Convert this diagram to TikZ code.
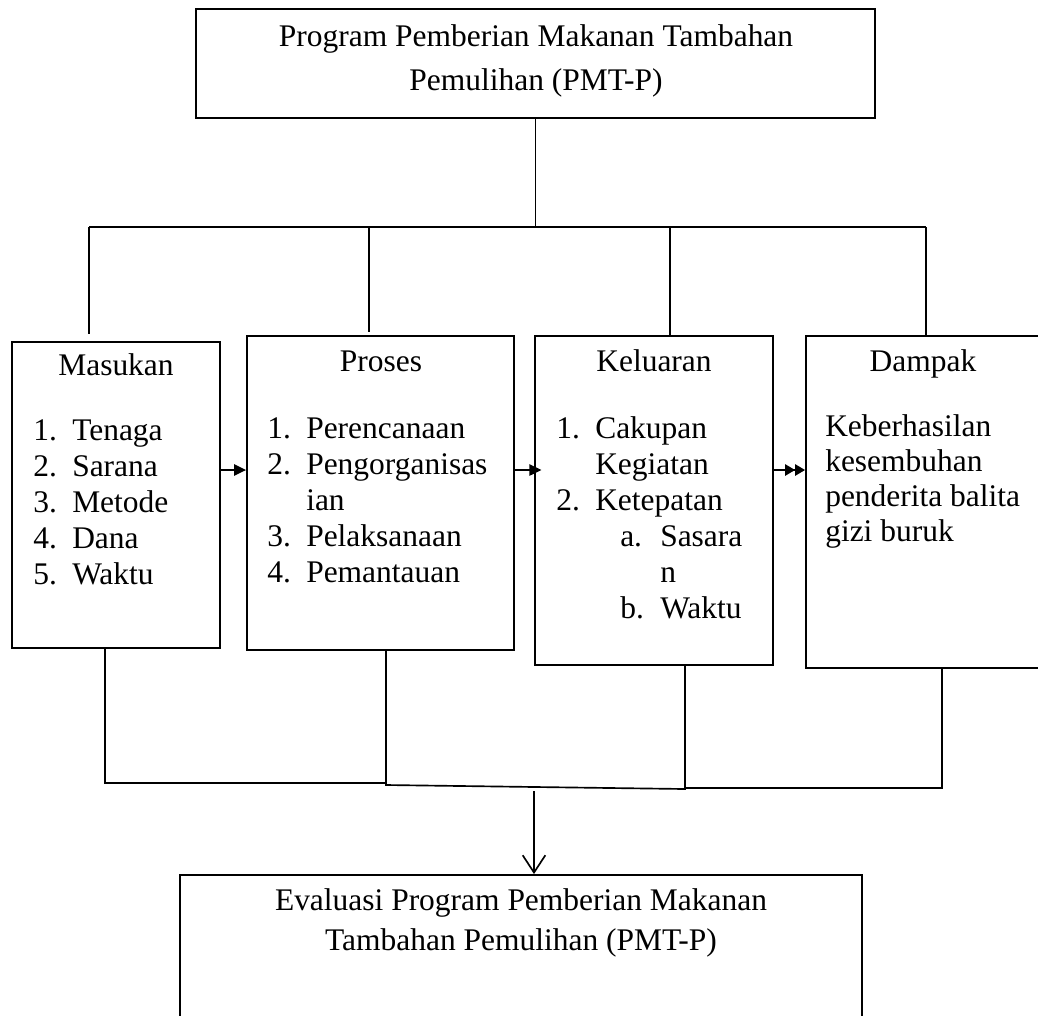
\documentclass[tikz,border=0pt]{standalone}
\usepackage{fontspec}
\setmainfont{Liberation Serif}
\usetikzlibrary{arrows.meta,fit,calc}
\begin{document}
\begin{tikzpicture}[x=0.75pt,y=-0.75pt,
  box/.style={draw, line width=1.4pt, inner sep=0pt},
  txt/.style={font=\fontsize{23.6}{27}\selectfont, inner sep=0pt},
  wire/.style={line width=1.25pt},
  fwd/.style={line width=1.25pt, -{Triangle[length=9pt,width=8.5pt]}},
  fwdtwo/.style={line width=1.25pt, -{Triangle[length=7.5pt,width=8.5pt]Triangle[length=7.5pt,width=8.5pt]}},
  down/.style={line width=1.25pt, -{Straight Barb[length=13pt,width=17pt,line width=1.25pt]}}]
\useasboundingbox (0,0) rectangle (1038,1015);
\clip (0,0) rectangle (1038,1015);
\fill[white] (0,0) rectangle (1038,1015);

% boxes
\node[box, fit={(196,9) (875,118)}] (top) {};
\node[box, fit={(12,342) (220,648)}] (mas) {};
\node[box, fit={(247,336) (514,650)}] (pro) {};
\node[box, fit={(535,336) (773,665)}] (kel) {};
\node[box, fit={(806,336) (1050,668)}] (dam) {};
\node[box, fit={(180,875) (862,1040)}] (eva) {};

% top text
\node[txt, anchor=mid] (topa) at (536,43) {Program Pemberian Makanan Tambahan};
\node[txt, anchor=mid] (topb) at (536,87) {Pemulihan (PMT-P)};

% Masukan
\node[txt, anchor=mid] (mast) at (116,372) {Masukan};
\foreach \n/\t [count=\i] in {1./Tenaga, 2./Sarana, 3./Metode, 4./Dana, 5./Waktu} {
  \node[txt, anchor=mid west] (masn\i) at (33,{437+36*(\i-1)}) {\n};
  \node[txt, anchor=mid west] (mast\i) at (72,{437+36*(\i-1)}) {\t};
}

% Proses
\node[txt, anchor=mid] (prot) at (381,368) {Proses};
\foreach \n/\t [count=\i] in {1./Perencanaan, 2./Pengorganisas, {}/ian, 3./Pelaksanaan, 4./Pemantauan} {
  \node[txt, anchor=mid west] (pron\i) at (267,{435+36*(\i-1)}) {\n};
  \node[txt, anchor=mid west] (prot\i) at (306,{435+36*(\i-1)}) {\t};
}

% Keluaran
\node[txt, anchor=mid] (kelt) at (654,368) {Keluaran};
\node[txt, anchor=mid west] (keln1) at (556,435) {1.};
\node[txt, anchor=mid west] (kelt1) at (595,435) {Cakupan};
\node[txt, anchor=mid west] (kelt2) at (595,471) {Kegiatan};
\node[txt, anchor=mid west] (keln3) at (556,507) {2.};
\node[txt, anchor=mid west] (kelt3) at (595,507) {Ketepatan};
\node[txt, anchor=mid west] (keln4) at (620,543) {a.};
\node[txt, anchor=mid west] (kelt4) at (660,543) {Sasara};
\node[txt, anchor=mid west] (kelt5) at (660,579) {n};
\node[txt, anchor=mid west] (keln6) at (620,615) {b.};
\node[txt, anchor=mid west] (kelt6) at (660,615) {Waktu};

% Dampak
\node[txt, anchor=mid] (damt) at (923,368) {Dampak};
\node[txt, anchor=mid west] (damt1) at (825,433) {Keberhasilan};
\node[txt, anchor=mid west] (damt2) at (825,468) {kesembuhan};
\node[txt, anchor=mid west] (damt3) at (825,503) {penderita balita};
\node[txt, anchor=mid west] (damt4) at (825,538) {gizi buruk};

% Evaluasi
\node[txt, anchor=mid] (evaa) at (521,907) {Evaluasi Program Pemberian Makanan};
\node[txt, anchor=mid] (evab) at (521,947) {Tambahan Pemulihan (PMT-P)};

% top bus
\coordinate (b1) at (89,227);
\coordinate (b2) at (369,227);
\coordinate (b3) at (670,227);
\coordinate (b4) at (926,227);
\coordinate (e1) at (89,334);
\coordinate (e2) at (369,332);
\draw[wire] (top.south) -- (top.south |- b1);
\draw[wire] (b1) -- (b4);
\draw[wire] (b1) -- (e1);
\draw[wire] (b2) -- (e2);
\draw[wire] (b3) -- (b3 |- kel.north);
\draw[wire] (b4) -- (b4 |- dam.north);

% horizontal arrows
\coordinate (ay) at (0,470);
\draw[fwd] (mas.east |- ay) -- (pro.west |- ay);
\draw[fwd, shorten >=-5.5pt] (pro.east |- ay) -- (kel.west |- ay);
\draw[fwdtwo] (kel.east |- ay) -- (dam.west |- ay);

% bottom bus
\coordinate (c1) at (105,783);
\coordinate (c2a) at (386,783);
\coordinate (c2b) at (386,785);
\coordinate (c3) at (685,789);
\coordinate (c3b) at (685,788);
\coordinate (c4) at (942,788);
\draw[wire] (c1 |- mas.south) -- (c1) -- (c2a) -- (c2b) -- (c3) -- (c3b) -- (c4) -- (c4 |- dam.south);
\draw[wire] (c2a |- pro.south) -- (c2a);
\draw[wire] (c3 |- kel.south) -- (c3);

% down arrow
\coordinate (d0) at (534,791);
\draw[down] (d0) -- (d0 |- eva.north);
\end{tikzpicture}
\end{document}
